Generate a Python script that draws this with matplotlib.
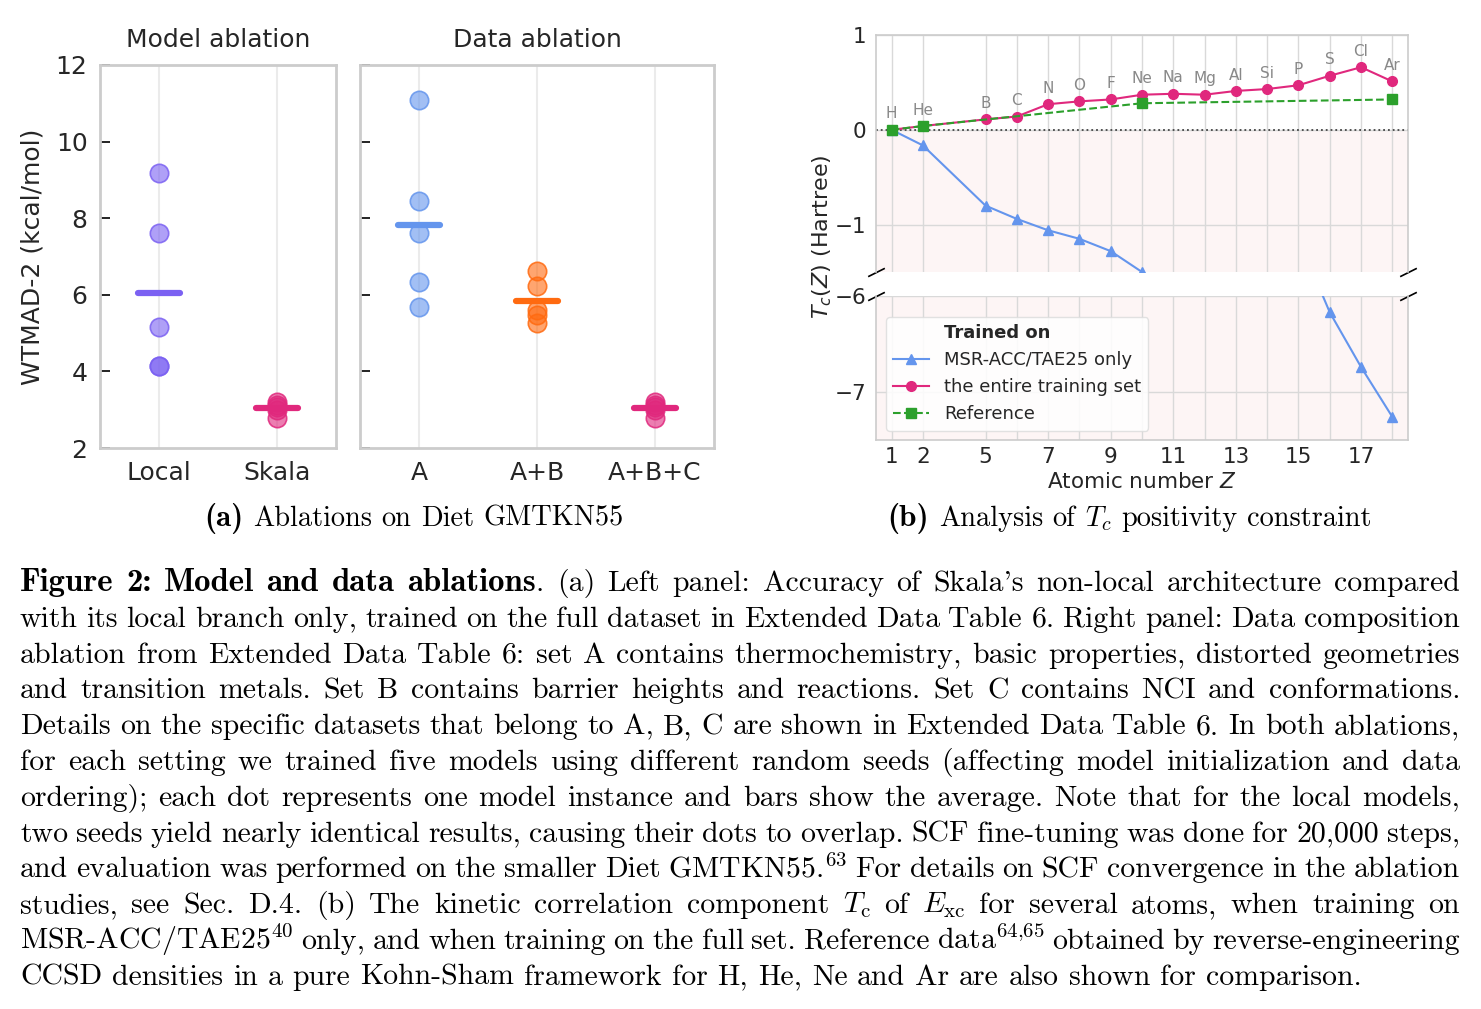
import numpy as np
import matplotlib.pyplot as plt
from matplotlib.colors import to_rgba
from matplotlib.lines import Line2D

W, H = 1481, 1009

# panel (a): five seeds per setting, WTMAD-2 in kcal/mol
model_cats = ['Local', 'Skala']
model_vals = [
    [9.17, 7.61, 5.17, 4.15, 4.14],
    [3.20, 3.12, 3.08, 2.98, 2.78],
]
data_cats = ['A', 'A+B', 'A+B+C']
data_vals = [
    [11.09, 8.45, 7.61, 6.33, 5.68],
    [6.61, 6.22, 5.61, 5.48, 5.26],
    [3.20, 3.12, 3.08, 2.98, 2.78],
]
model_colors = ['#7B61F2', '#E0287D']
data_colors = ['#6495ED', '#FF6A10', '#E0287D']

# panel (b): Tc(Z) in Hartree
elements = ['H', 'He', 'B', 'C', 'N', 'O', 'F', 'Ne', 'Na', 'Mg', 'Al', 'Si', 'P', 'S', 'Cl', 'Ar']
atomic_z = [1, 2, 5, 6, 7, 8, 9, 10, 11, 12, 13, 14, 15, 16, 17, 18]
tc_tae25 = [0.0, -0.165, -0.80, -0.94, -1.06, -1.15, -1.28, -1.50, -2.2, -2.9, -3.7, -4.5, -5.4, -6.17, -6.74, -7.26]
tc_full = [0.0, 0.04, 0.11, 0.14, 0.27, 0.30, 0.32, 0.37, 0.38, 0.37, 0.41, 0.43, 0.47, 0.57, 0.66, 0.51]
ref_z = [1, 2, 10, 18]
tc_ref = [0.0, 0.04, 0.28, 0.32]
labelled_z = [1, 2, 5, 7, 9, 11, 13, 15, 17]

caption_lines = [
    "**Figure 2: Model and data ablations**. (a) Left panel: Accuracy of Skala's non-local architecture compared",
    "with its local branch only, trained on the full dataset in Extended Data Table 6. Right panel: Data composition",
    "ablation from Extended Data Table 6: set A contains thermochemistry, basic properties, distorted geometries",
    "and transition metals. Set B contains barrier heights and reactions. Set C contains NCI and conformations.",
    "Details on the specific datasets that belong to A, B, C are shown in Extended Data Table 6. In both ablations,",
    "for each setting we trained five models using different random seeds (affecting model initialization and data",
    "ordering); each dot represents one model instance and bars show the average. Note that for the local models,",
    "two seeds yield nearly identical results, causing their dots to overlap. SCF fine-tuning was done for 20,000 steps,",
    r"and evaluation was performed on the smaller Diet GMTKN55.$^{\mathrm{63}}$ For details on SCF convergence in the ablation",
    r"studies, see Sec. D.4. (b) The kinetic correlation component $T_\mathrm{c}$ of $E_\mathrm{xc}$ for several atoms, when training on",
    r"MSR-ACC/TAE25$^{\mathrm{40}}$ only, and when training on the full set. Reference data$^{\mathrm{64{,}65}}$ obtained by reverse-engineering",
    "CCSD densities in a pure Kohn-Sham framework for H, He, Ne and Ar are also shown for comparison.",
]
subcap_a = "**(a)** Ablations on Diet GMTKN55"
subcap_b = "**(b)** Analysis of $T_c$ positivity constraint"


def slot(z):
    # Li and Be are missing, the gap is collapsed to one slot
    return z if z <= 2 else z - 1


def strip_panel(ax, cats, vals, colors):
    for i, (v, c) in enumerate(zip(vals, colors)):
        ax.scatter([i] * len(v), v, s=175, facecolor=to_rgba(c, 0.6),
                   edgecolor=to_rgba(c, 0.85), linewidth=1.2, zorder=3)
        ax.plot([i - 0.18, i + 0.18], [np.mean(v)] * 2, color=c, lw=4.5,
                solid_capstyle='round', zorder=2)
    ax.set_xticks(range(len(cats)))
    ax.set_xticklabels(cats)
    ax.set_xlim(-0.5, len(cats) - 0.5)
    ax.set_ylim(2, 12)
    ax.set_yticks(range(2, 13, 2))
    ax.grid(axis='x', color='#ebebeb', lw=1.5)
    ax.set_axisbelow(True)
    for s in ax.spines.values():
        s.set_color('#cccccc')
        s.set_linewidth(2)
    ax.tick_params(axis='x', length=0, labelsize=18, pad=9, labelcolor='#262626')
    ax.tick_params(axis='y', direction='in', length=7, width=1.4, color='#222222',
                   labelsize=18, pad=9, labelcolor='#262626')


fig = plt.figure(figsize=(W / 100, H / 100), dpi=100)

ax1 = fig.add_axes([100 / W, 1 - 448 / H, 236 / W, 383 / H])
ax2 = fig.add_axes([360 / W, 1 - 448 / H, 354 / W, 383 / H])
strip_panel(ax1, model_cats, model_vals, model_colors)
strip_panel(ax2, data_cats, data_vals, data_colors)
ax2.set_yticklabels([])
ax1.set_title('Model ablation', fontsize=18, pad=13, color='#262626')
ax2.set_title('Data ablation', fontsize=18, pad=13, color='#262626')
ax1.set_ylabel('WTMAD-2 (kcal/mol)', fontsize=18, labelpad=8, color='#262626')

# panel (b), broken y axis
ax_top = fig.add_axes([876 / W, 1 - 272 / H, 532 / W, 237 / H])
ax_bot = fig.add_axes([876 / W, 1 - 440 / H, 532 / W, 144 / H])
pos = [slot(z) for z in atomic_z]
ref_pos = [slot(z) for z in ref_z]

for ax in (ax_top, ax_bot):
    ax.axhspan(-10, 0, color='#fdf5f5', zorder=0, lw=0)
    h_tae, = ax.plot(pos, tc_tae25, color='#6495ED', lw=1.5, marker='^', ms=7, zorder=2)
    h_full, = ax.plot(pos, tc_full, color='#E0287D', lw=1.5, marker='o', ms=7, zorder=3)
    h_ref, = ax.plot(ref_pos, tc_ref, color='#2CA02C', lw=1.5, ls='--', marker='s', ms=7, zorder=4)
    ax.set_xlim(0.5, 17.5)
    ax.set_xticks(pos)
    ax.grid(True, color='#d9d9d9', lw=1)
    ax.set_axisbelow(True)
    for s in ax.spines.values():
        s.set_color('#cccccc')
        s.set_linewidth(1.2)
    ax.tick_params(length=0, labelsize=15.5, labelcolor='#262626')
    ax.tick_params(axis='y', pad=7)

ax_top.axhline(0, color='#444444', ls=':', lw=1.3, zorder=1.5)
ax_top.set_ylim(-1.5, 1)
ax_top.set_yticks([-1, 0, 1])
ax_top.set_xticklabels([])
ax_top.spines['bottom'].set_visible(False)
ax_bot.set_ylim(-7.5, -6)
ax_bot.set_yticks([-7, -6])
ax_bot.set_xticklabels([str(z) if z in labelled_z else '' for z in atomic_z])
ax_bot.tick_params(axis='x', pad=5)
ax_bot.spines['top'].set_visible(False)
ax_bot.set_xlabel('Atomic number $Z$', fontsize=15.5, labelpad=4, color='#262626')

for p, v, el in zip(pos, tc_full, elements):
    ax_top.annotate(el, (p, v), xytext=(0, 6), textcoords='offset points',
                    ha='center', va='bottom', fontsize=11, color='#888888')

d = 0.5
brk = dict(marker=[(-1, -d), (1, d)], markersize=12, linestyle='none',
           color='k', mec='k', mew=1.2, clip_on=False)
ax_top.plot([0, 1], [0, 0], transform=ax_top.transAxes, **brk)
ax_bot.plot([0, 1], [1, 1], transform=ax_bot.transAxes, **brk)

fig.text(822 / W, 1 - 237 / H, '$T_c(Z)$ (Hartree)', rotation=90,
         ha='center', va='center', fontsize=16, color='#262626')

blank = Line2D([], [], linestyle='none')
leg = ax_bot.legend([blank, h_tae, h_full, h_ref],
                    ['Trained on', 'MSR-ACC/TAE25 only', 'the entire training set', 'Reference'],
                    loc='upper left', bbox_to_anchor=(886 / W, 1 - 317 / H),
                    bbox_transform=fig.transFigure, borderaxespad=0, fontsize=13,
                    frameon=True, fancybox=True, framealpha=0.85, edgecolor='#dddddd')
leg.get_texts()[0].set_fontweight('bold')
for t in leg.get_texts():
    t.set_color('#262626')

# caption, set word by word so that lines can be justified
renderer = fig.canvas.get_renderer()
BOLD_SCALE = 1.1  # cmb10 is narrower than the LaTeX bold extended face


def split_words(line):
    words, bold = [], False
    for tok in line.split():
        parts = []
        for k, piece in enumerate(tok.split('**')):
            if k > 0:
                bold = not bold
            if piece:
                parts.append((piece, bold))
        words.append(parts)
    return words


def font_args(bold, size):
    if bold:
        return dict(fontsize=size * BOLD_SCALE, family='cmb10', math_fontfamily='cm')
    return dict(fontsize=size, family='cmr10', math_fontfamily='cm')


def piece_width(piece, bold, size):
    t = fig.text(0, 0, piece, **font_args(bold, size))
    w = t.get_window_extent(renderer).width
    t.remove()
    return w


def word_width(parts, size):
    return sum(piece_width(p, b, size) for p, b in parts)


def place_words(words, x0, y, size, target=None, center=False):
    widths = [word_width(w, size) for w in words]
    space = 0.333 * size * 100 / 72
    if target is not None:
        space = (target - sum(widths)) / (len(words) - 1)
    total = sum(widths) + space * (len(words) - 1)
    x = x0 - total / 2 if center else x0
    for parts, w in zip(words, widths):
        xp = x
        for piece, bold in parts:
            fig.text(xp / W, 1 - y / H, piece, va='baseline', **font_args(bold, size))
            xp += piece_width(piece, bold, size)
        x += w + space


# size the caption font from the natural width of the last line
probe = split_words(caption_lines[-1])
probe_w = sum(word_width(w, 20) for w in probe) + 0.333 * 20 * 100 / 72 * (len(probe) - 1)
cap_size = 20 * 1343 / probe_w

left, right = 20, 1460
for i, line in enumerate(caption_lines):
    words = split_words(line)
    last = i == len(caption_lines) - 1
    place_words(words, left, 591 + 35.8 * i, cap_size, None if last else right - left)

sub_size = cap_size * 0.95
place_words(split_words(subcap_a), 414, 526, sub_size, center=True)
place_words(split_words(subcap_b), 1129.5, 526, sub_size, center=True)

fig.savefig('out.png', dpi=100)
